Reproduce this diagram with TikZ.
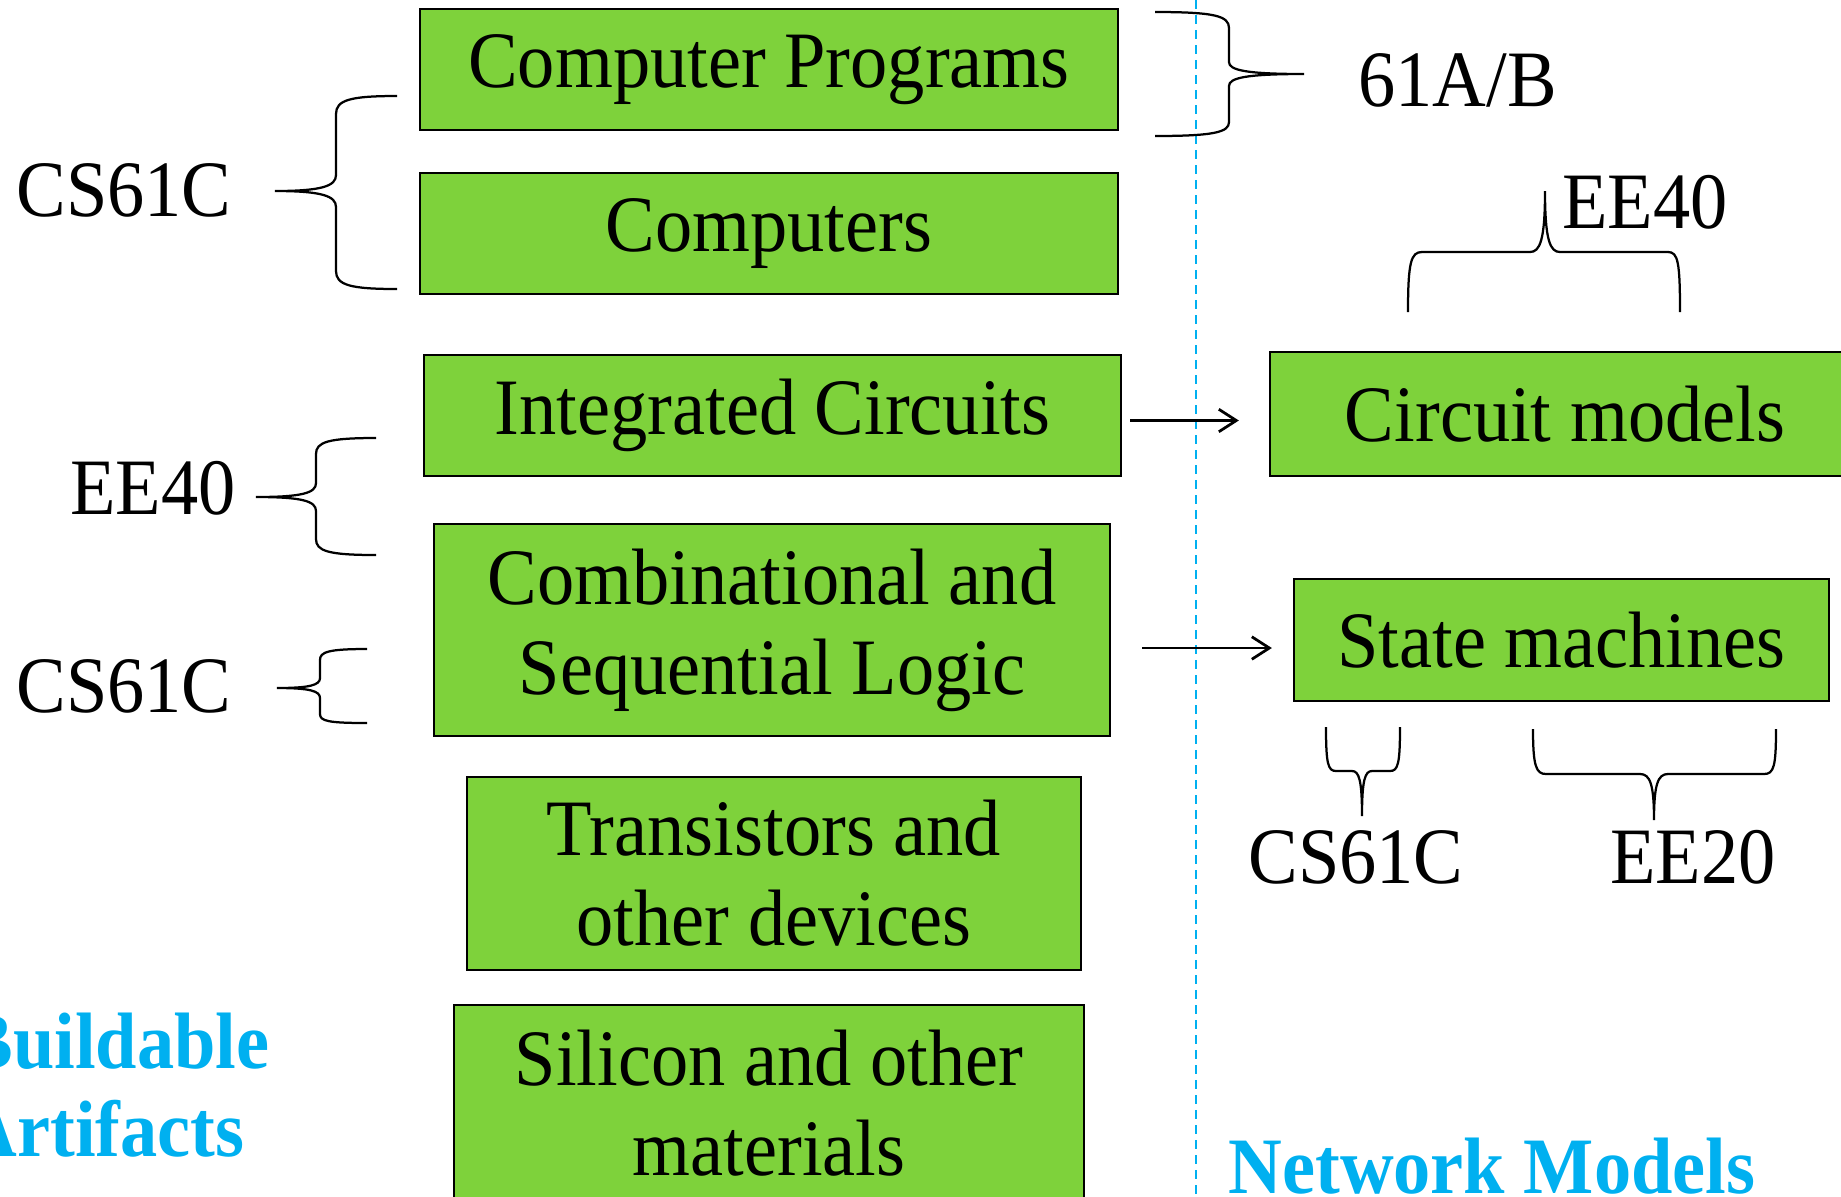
\documentclass[tikz,border=0pt]{standalone}
\usepackage{fontspec}
\setmainfont{Liberation Serif}[FakeStretch=0.93]
\usetikzlibrary{arrows.meta}
\definecolor{boxgreen}{RGB}{126,210,59}
\definecolor{skyblue}{RGB}{0,176,240}
\tikzset{
  layerbox/.style={draw=black, line width=0.9pt, fill=boxgreen, inner sep=0pt, align=center,
    font=\fontsize{32}{36}\selectfont},
  course/.style={inner sep=0pt, font=\fontsize{32}{36}\selectfont},
  heading/.style={inner sep=0pt, text=skyblue, align=left, font=\fontsize{32}{35}\selectfont\bfseries},
  bracepath/.style={draw=black, line width=0.9pt},
  arr/.style={draw=black, line width=1.1pt, -{Straight Barb[length=7pt,width=9pt,line width=1.1pt]}},
  divider/.style={draw=skyblue, line width=1.1pt, dash pattern=on 3.6pt off 2.4pt}
}
\begin{document}
\begin{tikzpicture}[x=0.4pt,y=-0.4pt]
\useasboundingbox (0,0) rectangle (1841,1196);
\clip (0,0) rectangle (1841,1196);

% divider
\draw[divider] (1196,0) -- (1196,1196);

% left column boxes
\node[layerbox, minimum width=279.2pt, minimum height=48.4pt] (b1) at (769,69.5) {Computer Programs};
\node[layerbox, minimum width=279.2pt, minimum height=48.4pt] (b2) at (769,233.5) {Computers};
\node[layerbox, minimum width=278.8pt, minimum height=48.4pt] (b3) at (772.5,415.5) {Integrated Circuits};
\node[layerbox, minimum width=270.4pt, minimum height=84.8pt] (b4) at (772,630) {Combinational and\\Sequential Logic};
\node[layerbox, minimum width=245.6pt, minimum height=77.2pt] (b5) at (774,873.5) {Transistors and\\other devices};
\node[layerbox, minimum width=252pt, minimum height=78.4pt] (b6) at (769,1103) {Silicon and other\\materials};

% right column boxes
\node[layerbox, minimum width=236pt, minimum height=49.6pt] (b7) at (1565,414) {Circuit models};
\node[layerbox, minimum width=214pt, minimum height=48.8pt] (b8) at (1561.5,640) {State machines};

% arrows
\draw[arr] ([xshift=3.2pt,yshift=-2pt]b3.east) -- ([xshift=-12pt,yshift=-2pt]b3.east -| b7.west);
\draw[arr] ([xshift=12.4pt,yshift=-3.2pt]b8.west -| b4.east) -- ([xshift=-8.4pt,yshift=-3.2pt]b8.west);

% course labels
\node[course, anchor=base west] (l1) at (16,216) {CS61C};
\node[course, anchor=base west] (l2) at (70,514) {EE40};
\node[course, anchor=base west] (l3) at (16,712) {CS61C};
\node[course, anchor=base west] (l4) at (1358,106) {61A/B};
\node[course, anchor=base west] (l5) at (1562,228) {EE40};
\node[course, anchor=base west] (l6) at (1248,883) {CS61C};
\node[course, anchor=base west] (l7) at (1610,883) {EE20};

% headings
\node[heading, anchor=west] (h1) at (-37,1085) {Buildable\\Artifacts};
\node[heading, anchor=base west] (h2) at (1228,1193) {Network Models};

% braces
\draw[bracepath] (397,96) .. controls (350,96) and (336,100) .. (336,114) -- (336,175)
  .. controls (336,186) and (322,191) .. (275,191)
  .. controls (322,191) and (336,196) .. (336,207) -- (336,271)
  .. controls (336,285) and (350,289) .. (397,289);
\draw[bracepath] (376,438) .. controls (328,438) and (316,442) .. (316,454) -- (316,483)
  .. controls (316,493) and (302,497) .. (256,497)
  .. controls (302,497) and (316,501) .. (316,511) -- (316,539)
  .. controls (316,551) and (328,555) .. (376,555);
\draw[bracepath] (367,649) .. controls (328,649) and (320,652) .. (320,660) -- (320,678)
  .. controls (320,685) and (310,688) .. (277,688)
  .. controls (310,688) and (320,691) .. (320,698) -- (320,714)
  .. controls (320,721) and (328,723) .. (367,723);
\draw[bracepath] (1155,12) .. controls (1215,12) and (1229,16) .. (1229,28) -- (1229,62)
  .. controls (1229,70) and (1245,74) .. (1304,74)
  .. controls (1245,74) and (1229,78) .. (1229,86) -- (1229,122)
  .. controls (1229,132) and (1215,136) .. (1155,136);
\draw[bracepath] (1408,312) .. controls (1408,262) and (1411,252) .. (1422,252) -- (1530,252)
  .. controls (1540,252) and (1545,240) .. (1545,191)
  .. controls (1545,240) and (1550,252) .. (1560,252) -- (1668,252)
  .. controls (1678,252) and (1680,262) .. (1680,312);
\draw[bracepath] (1326,727) .. controls (1326,764) and (1328,771) .. (1336,771) -- (1352,771)
  .. controls (1359,771) and (1362,780) .. (1362,816)
  .. controls (1362,780) and (1365,771) .. (1372,771) -- (1390,771)
  .. controls (1398,771) and (1400,764) .. (1400,727);
\draw[bracepath] (1533,729) .. controls (1533,766) and (1536,774) .. (1546,774) -- (1640,774)
  .. controls (1650,774) and (1654,784) .. (1654,820)
  .. controls (1654,784) and (1658,774) .. (1668,774) -- (1764,774)
  .. controls (1774,774) and (1776,766) .. (1776,729);
\end{tikzpicture}
\end{document}
